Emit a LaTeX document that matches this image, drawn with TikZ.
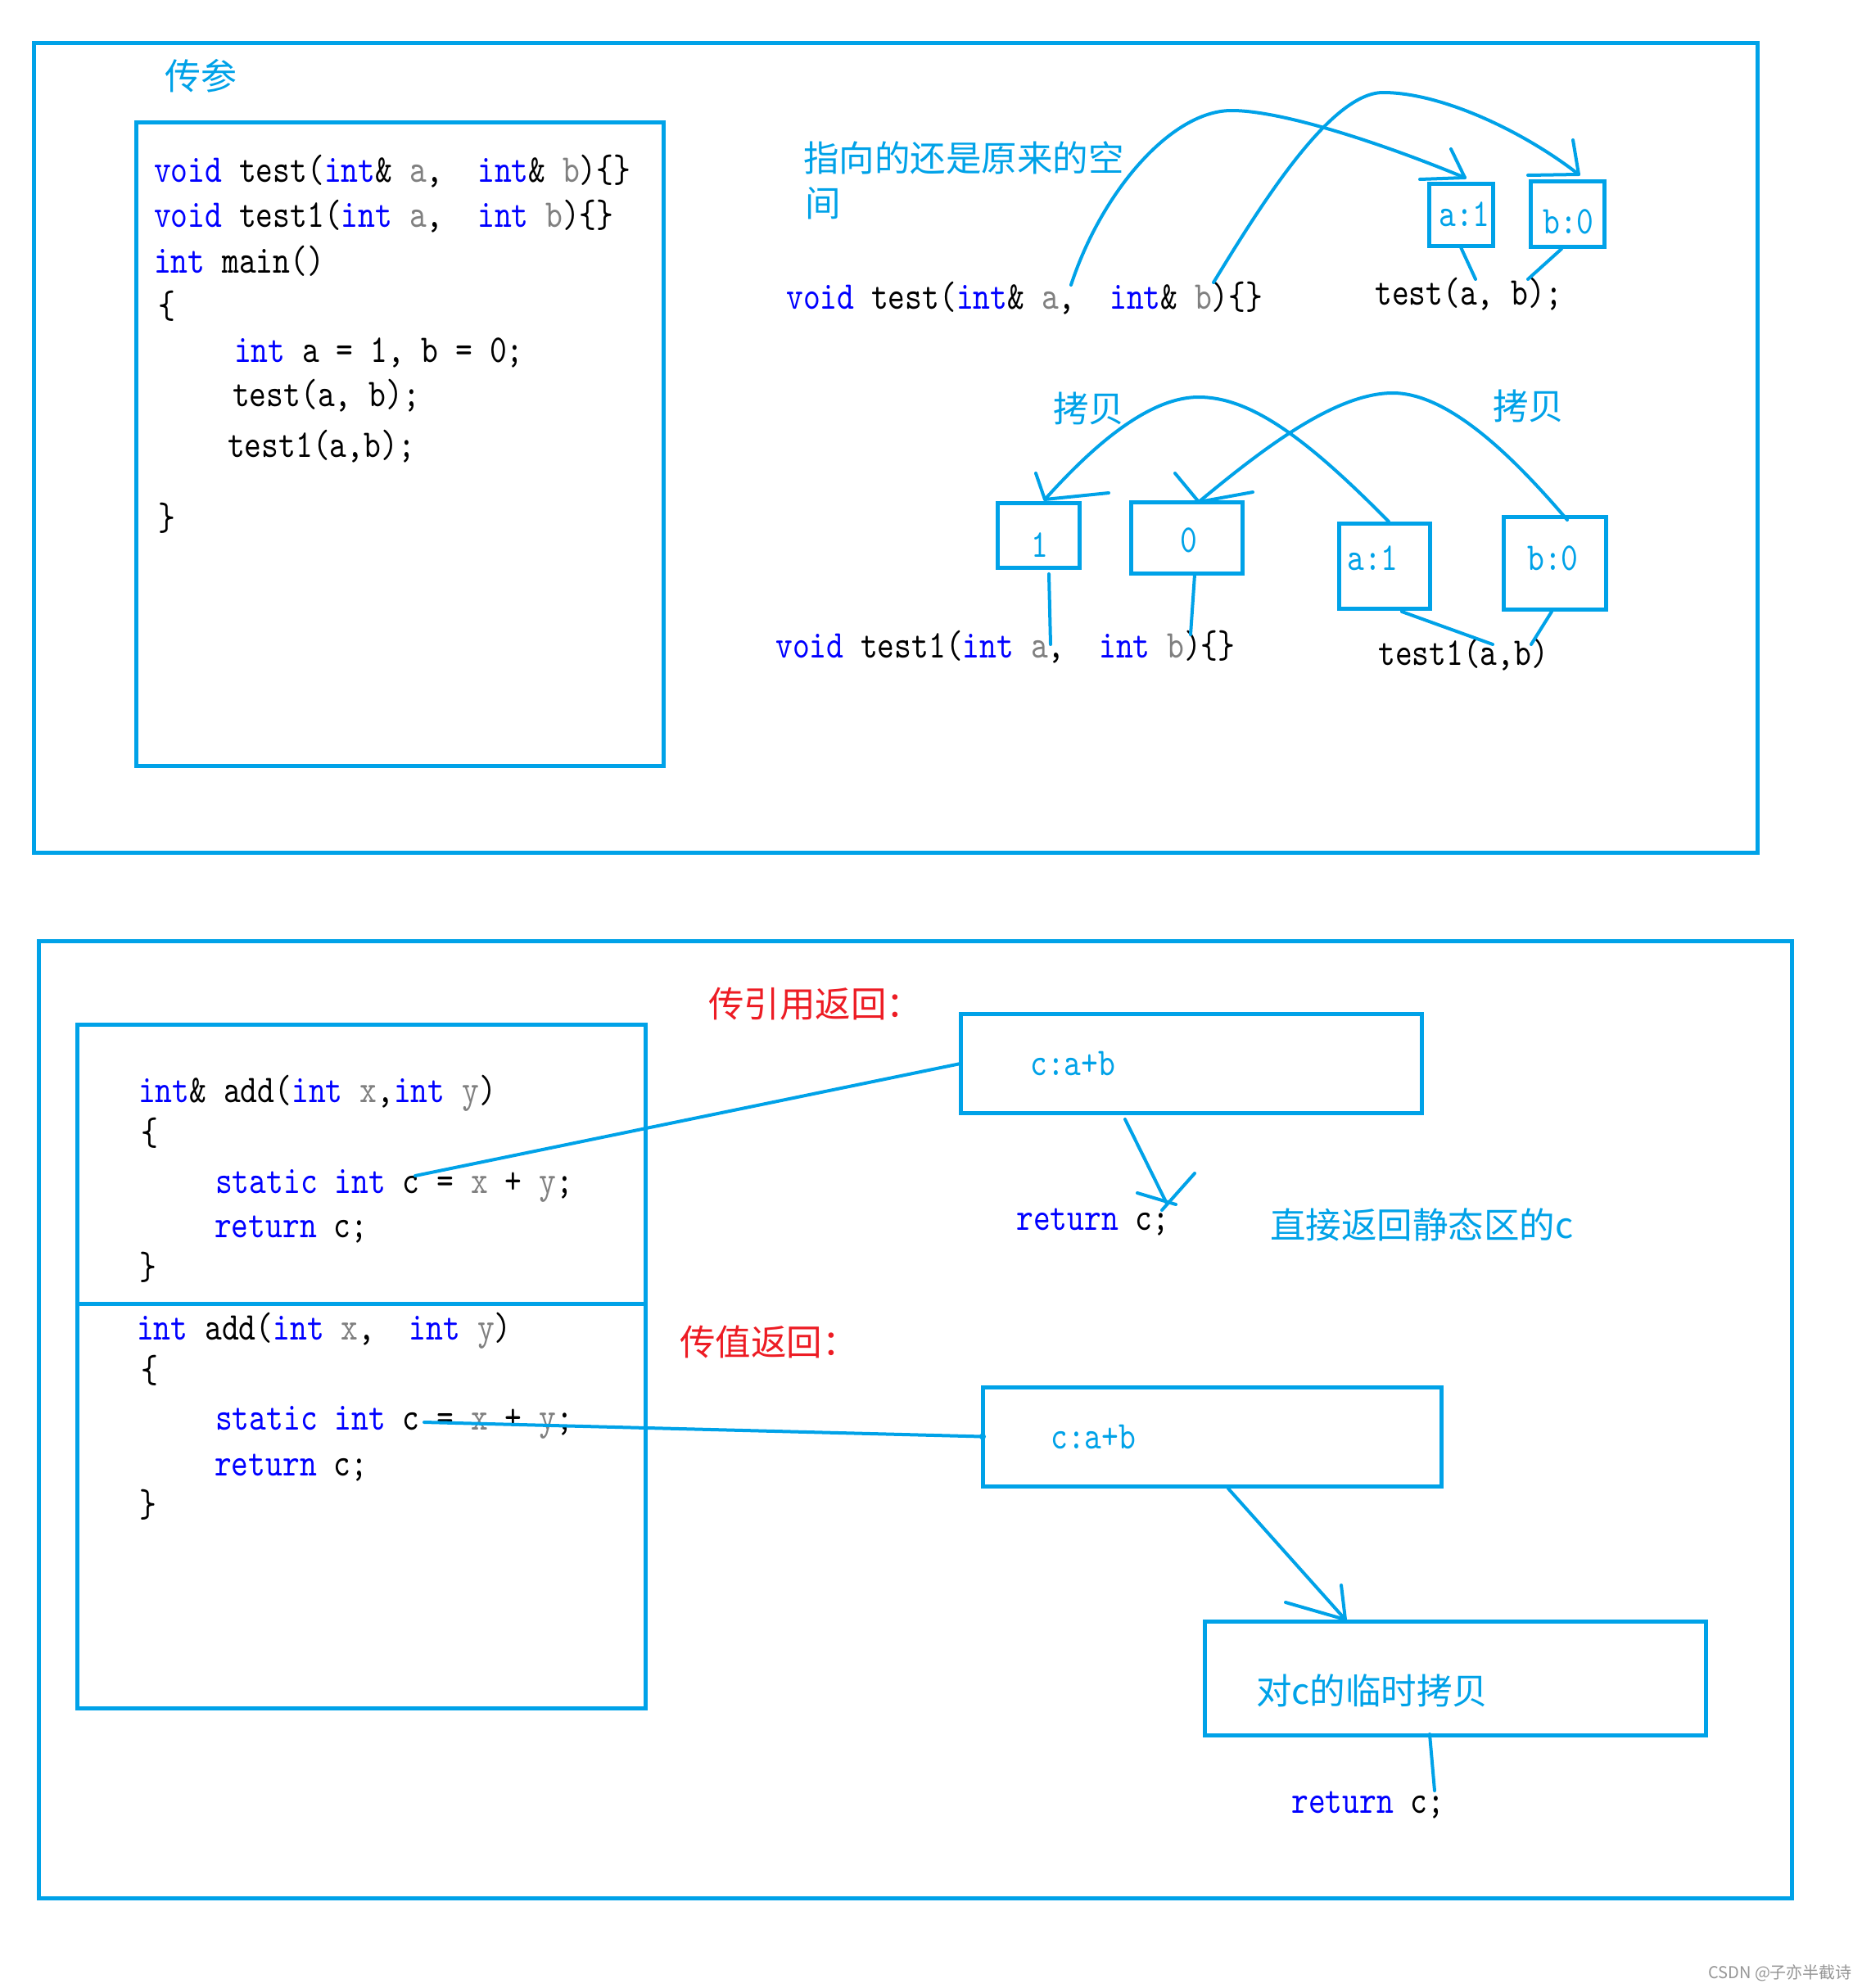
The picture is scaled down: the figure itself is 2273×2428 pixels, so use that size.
\documentclass[tikz,border=0pt]{standalone}
\usepackage{fontspec}
\newfontfamily\cjk{Noto Sans CJK SC}
\newfontfamily\codefont{lmmono10-regular.otf}[FakeStretch=0.825]
\definecolor{paintblue}{RGB}{0,162,232}
\definecolor{kwblue}{RGB}{0,0,255}
\definecolor{pgrey}{RGB}{128,128,128}
\definecolor{pred}{RGB}{237,28,36}
\definecolor{wmgrey}{RGB}{150,150,150}
\newcommand\kw[1]{\textcolor{kwblue}{#1}}
\newcommand\gy[1]{\textcolor{pgrey}{#1}}
\tikzset{
  frame/.style={draw=paintblue, line width=5pt},
  boxn/.style={frame, anchor=north west, inner sep=0pt, outer sep=0pt},
  wire/.style={draw=paintblue, line width=4pt, line cap=round, line join=round},
  code/.style={inner sep=0pt, anchor=base west, font=\codefont\fontsize{48}{56}\selectfont},
  lbl/.style={code, text=paintblue},
  zh/.style={inner sep=0pt, anchor=base west, font=\cjk\fontsize{43.5}{52}\selectfont, text=paintblue},
  zhred/.style={zh, text=pred},
  wm/.style={inner sep=0pt, anchor=base west, font=\cjk\fontsize{20}{24}\selectfont, text=wmgrey},
}
\begin{document}
\begin{tikzpicture}[x=1pt,y=-1pt]
\fill[white] (0,0) rectangle (2273,2428);
\useasboundingbox (0,0) rectangle (2273,2428);

% ---------- top section ----------
\node[boxn, minimum width=2104.5pt, minimum height=988.5pt] (outer1) at (41.5,52.5) {};
\node[zh, font=\cjk\fontsize{44}{52}\selectfont] (title) at (201,109) {传参};
\node[boxn, minimum width=644pt, minimum height=786pt] (cb1) at (166,149) {};

\node[code] (t1) at (188,222) {\kw{void} test(\kw{int}\&~\gy{a},~~\kw{int}\&~\gy{b})\{\}};
\node[code] (t2) at (188,277) {\kw{void} test1(\kw{int}~\gy{a},~~\kw{int}~\gy{b})\{\}};
\node[code] (t3) at (188,333) {\kw{int} main()};
\node[code] (t4) at (193,388) {\{};
\node[code] (t5) at (286,442) {\kw{int} a = 1, b = 0;};
\node[code] (t6) at (284,496) {test(a, b);};
\node[code] (t7) at (278,558) {test1(a,b);};
\node[code] (t8) at (193,647) {\}};

% reference passing
\node[zh] (note1) at (981,209) {指向的还是原来的空};
\node[zh] (note2) at (983,264) {间};
\node[code] (sig1) at (960,377) {\kw{void} test(\kw{int}\&~\gy{a},~~\kw{int}\&~\gy{b})\{\}};
\node[code] (call1) at (1679,372) {test(a, b);};
\node[boxn, minimum width=78pt, minimum height=76pt] (ra) at (1745,224) {};
\node[boxn, minimum width=90pt, minimum height=80pt] (rb) at (1869,221) {};
\node[lbl] (ral) at (1757,276) {a:1};
\node[lbl] (rbl) at (1884,285) {b:0};

\coordinate (sa) at (1308,348);
\coordinate (pa) at (1504,135);
\coordinate (ta) at (1789,217);
\coordinate (sb) at (1482,345);
\coordinate (pb) at (1689,113);
\coordinate (tb) at (1928,213);
\draw[wire] (sa) .. controls (1345,235) and (1430,135) .. (pa)
             .. controls (1570,135) and (1700,180) .. (ta);
\draw[wire] (1772,182) -- (ta) -- (1734,219);
\draw[wire] (sb) .. controls (1540,250) and (1625,113) .. (pb)
             .. controls (1760,113) and (1860,160) .. (tb);
\draw[wire] (1921,171) -- (tb) -- (1866,214);
\draw[wire] (ra.south) ++(0,2) -- (1802,341);
\draw[wire] (1907,304) -- (1866,341);

% value passing
\node[zh] (copyl) at (1286,515) {拷贝};
\node[zh] (copyr) at (1823,512) {拷贝};
\node[boxn, minimum width=100pt, minimum height=79pt] (c1) at (1218,614) {};
\node[boxn, minimum width=136pt, minimum height=87pt] (c0) at (1381,613) {};
\node[boxn, minimum width=111pt, minimum height=104pt] (ca) at (1635,639) {};
\node[boxn, minimum width=125pt, minimum height=113pt] (cbx) at (1836,631) {};
\node[lbl, anchor=base] (c1l) at (1270,680) {1};
\node[lbl, anchor=base] (c0l) at (1452,674) {0};
\node[lbl] (cal) at (1645,696) {a:1};
\node[lbl] (cbl) at (1865,696) {b:0};
\node[code] (sig2) at (947,803) {\kw{void} test1(\kw{int}~\gy{a},~~\kw{int}~\gy{b})\{\}};
\node[code] (call2) at (1683,812) {test1(a,b)};

\coordinate (sc) at (1696,637);
\coordinate (pc) at (1464,485);
\coordinate (tc) at (1276,610);
\coordinate (sd) at (1914,635);
\coordinate (pd) at (1701,480);
\coordinate (td) at (1464,613);
\draw[wire] (sc) .. controls (1600,540) and (1530,485) .. (pc)
             .. controls (1400,485) and (1330,550) .. (tc);
\draw[wire] (1265,578) -- (tc) -- (1354,602);
\draw[wire] (sd) .. controls (1850,560) and (1770,480) .. (pd)
             .. controls (1630,480) and (1540,550) .. (td);
\draw[wire] (1435,578) -- (td) -- (1530,601);
\draw[wire] (1281,701) -- (1283,787);
\draw[wire] (1459,702) -- (1454,775);
\draw[wire] (1712,747) -- (1823,787);
\draw[wire] (1895,747) -- (1870,787);

% ---------- bottom section ----------
\node[boxn, minimum width=2140.5pt, minimum height=1168.5pt] (outer2) at (47.5,1149.5) {};
\node[boxn, minimum width=693.5pt, minimum height=835pt] (cb2) at (94.5,1251) {};
\draw[frame] (cb2.west |- 0,1592.5) -- (cb2.east |- 0,1592.5);

\node[code] (u1) at (169,1346) {\kw{int}\& add(\kw{int} \gy{x},\kw{int} \gy{y})};
\node[code] (u2) at (172,1398) {\{};
\node[code] (u3) at (263,1457) {\kw{static} \kw{int} c = \gy{x} + \gy{y};};
\node[code] (u4) at (262,1511) {\kw{return} c;};
\node[code] (u5) at (170,1562) {\}};
\node[code] (v1) at (167,1636) {\kw{int} add(\kw{int} \gy{x},~~\kw{int} \gy{y})};
\node[code] (v2) at (172,1688) {\{};
\node[code] (v3) at (263,1746) {\kw{static} \kw{int} c = \gy{x} + \gy{y};};
\node[code] (v4) at (262,1802) {\kw{return} c;};
\node[code] (v5) at (170,1852) {\}};

\node[zhred] (refret) at (865,1242) {传引用返回：};
\node[zhred] (valret) at (830,1655) {传值返回：};

\node[boxn, minimum width=563pt, minimum height=121pt] (bref) at (1173,1238.5) {};
\node[lbl] (brefl) at (1258,1313) {c:a+b};
\node[code] (ret1) at (1241,1502) {\kw{return} c;};
\node[zh] (note3) at (1551,1512) {直接返回静态区的c};

\node[boxn, minimum width=560.5pt, minimum height=121pt] (bval) at (1200,1694) {};
\node[lbl] (bvall) at (1283,1769) {c:a+b};
\node[boxn, minimum width=612pt, minimum height=139pt] (btmp) at (1471,1980) {};
\node[zh] (tmpl) at (1534,2081) {对c的临时拷贝};
\node[code] (ret2) at (1577,2214) {\kw{return} c;};

\coordinate (sc1) at (507,1436);
\coordinate (sc2) at (518,1737);
\coordinate (tr1) at (1425,1470);
\coordinate (tr2) at (1643,1978);
\draw[wire] (sc1) -- (bref.west);
\draw[wire] (1374,1367) -- (tr1);
\draw[wire] (1389,1457) -- (1436,1471);
\draw[wire] (1459,1433) -- (1419,1478);
\draw[wire] (sc2) -- (bval.west);
\fill[paintblue] (bval.west) circle (4);
\draw[wire] (1500,1818) -- (tr2);
\draw[wire] (1638,1936) -- (tr2) -- (1570,1957);
\draw[wire] (1746,2118) -- (1752,2187);

\node[wm] (wmk) at (2086,2416) {CSDN @子亦半截诗};
\end{tikzpicture}
\end{document}
